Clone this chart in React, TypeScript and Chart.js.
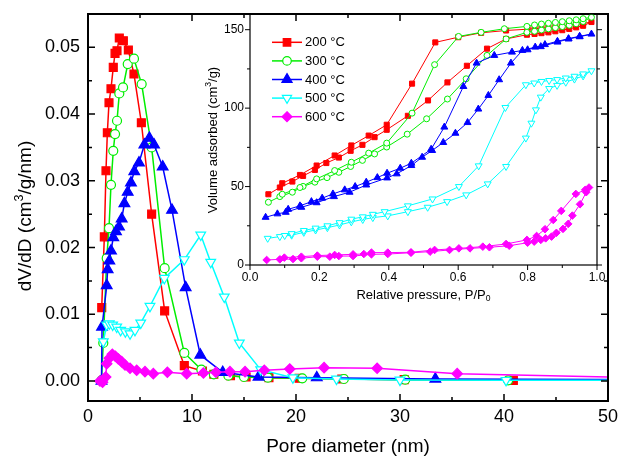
import React, { useEffect, useRef } from "react";
import { Chart, registerables } from "chart.js";

Chart.register(...registerables);

const FONT = '"Liberation Sans", Arial, Helvetica, sans-serif';

// Pore size distributions: [pore diameter (nm), dV/dD (cm3/g/nm)]
const psd200: [number, number][] = [
  [1.32, 0.011], [1.57, 0.0216], [1.73, 0.0315], [1.86, 0.0372], [2.02, 0.0417], [2.21, 0.0438],
  [2.43, 0.047], [2.6, 0.0491], [2.79, 0.0495], [3.01, 0.0514], [3.4, 0.051], [3.88, 0.0496],
  [4.42, 0.046], [5.13, 0.0387], [6.12, 0.025], [7.37, 0.0105], [9.26, 0.0023], [11.0, 0.0015],
  [12.1, 0.001], [13.7, 0.0008], [15.2, 0.0006], [17.4, 0.0005], [20.3, 0.0004], [24.4, 0.0003],
  [30.4, 0.0002], [40.9, 0.0001],
];
const psd300: [number, number][] = [
  [1.3, 0.0001], [1.47, 0.0057], [1.8, 0.0184], [2.02, 0.0229], [2.21, 0.0294], [2.43, 0.0345],
  [2.6, 0.037], [2.79, 0.039], [3.01, 0.0431], [3.37, 0.044], [3.82, 0.0475], [4.42, 0.0483],
  [5.16, 0.0445], [6.12, 0.035], [7.37, 0.0169], [9.26, 0.0042], [10.9, 0.0017], [12.1, 0.001],
  [13.5, 0.0008], [15.0, 0.0006], [17.3, 0.0005], [20.6, 0.0004], [24.6, 0.0003], [30.5, 0.0002],
  [40.4, 0.0001],
];
const psd400: [number, number][] = [
  [1.3, 0.0], [1.35, 0.0081], [1.8, 0.0143], [1.89, 0.0167], [2.05, 0.018], [2.21, 0.0195],
  [2.43, 0.0215], [2.69, 0.0224], [2.98, 0.0231], [3.24, 0.0243], [3.5, 0.0266], [3.82, 0.0283],
  [4.13, 0.0297], [4.45, 0.0314], [4.9, 0.0327], [5.42, 0.0354], [5.9, 0.0364], [6.35, 0.0354],
  [7.18, 0.0321], [8.08, 0.0256], [9.39, 0.014], [10.8, 0.0039], [12.95, 0.0013], [16.4, 0.0006],
  [22.0, 0.0005], [33.4, 0.0003], [55.0, 0.0002],
];
const psd500: [number, number][] = [
  [1.47, 0.0059], [1.8, 0.0084], [2.05, 0.0086], [2.37, 0.0084], [2.76, 0.0081], [3.14, 0.0076],
  [3.59, 0.0074], [4.04, 0.0071], [4.52, 0.0076], [5.07, 0.0087], [5.96, 0.0112], [7.34, 0.0154],
  [9.26, 0.0182], [10.84, 0.0219], [11.8, 0.0178], [13.1, 0.0126], [14.55, 0.0057], [16.6, 0.0017],
  [19.7, 0.0005], [23.9, 0.0003], [30.0, 0.00015], [40.2, 0.0001], [55.0, 0.0001],
];
const psd600: [number, number][] = [
  [1.15, 0.0], [1.4, -0.0002], [1.7, 0.0006], [1.8, 0.0026], [2.05, 0.0034], [2.34, 0.004],
  [2.63, 0.0037], [2.92, 0.0033], [3.24, 0.0029], [3.56, 0.0024], [4.04, 0.0019], [4.68, 0.0016],
  [5.48, 0.0014], [6.28, 0.0011], [7.63, 0.0013], [9.49, 0.0011], [11.1, 0.0012], [12.3, 0.0013],
  [13.65, 0.0014], [15.1, 0.0014], [16.95, 0.0016], [19.4, 0.0018], [22.7, 0.002], [27.8, 0.0019],
  [35.5, 0.0011], [55.0, 0.0004],
];

// N2 isotherms: [P/P0, volume adsorbed (cm3/g)], adsorption rising then desorption falling
const ads200: [number, number][] = [
  [0.053, 45.1], [0.086, 49.4], [0.122, 53.2], [0.153, 56.8], [0.187, 60.6], [0.22, 65], [0.256, 68.5],
  [0.29, 72.8], [0.324, 76.6], [0.359, 81.5], [0.394, 86.2], [0.455, 95.1], [0.513, 104.9], [0.569, 116.4],
  [0.625, 127], [0.683, 137.9], [0.738, 144.1], [0.798, 146.8], [0.82, 147.3], [0.84, 147.8], [0.86, 148.3],
  [0.88, 149], [0.9, 149.7], [0.92, 150.5], [0.94, 151.5], [0.96, 152.5], [0.984, 154.9],
];
const des200: [number, number][] = [
  [0.96, 154], [0.94, 153.3], [0.92, 152.8], [0.9, 152.3], [0.88, 151.8], [0.86, 151.4], [0.84, 151],
  [0.82, 150.6], [0.8, 150.3], [0.738, 149.5], [0.666, 148], [0.6, 145.2], [0.534, 141.9], [0.467, 115.6],
  [0.394, 89.4], [0.342, 82.5], [0.292, 76.2], [0.244, 69.8], [0.192, 63.4], [0.144, 57.4], [0.093, 52.1],
];
const ads300: [number, number][] = [
  [0.053, 40], [0.086, 43.6], [0.122, 46.4], [0.153, 50.1], [0.187, 52.8], [0.222, 55.7], [0.256, 59.1],
  [0.29, 62.8], [0.324, 66.7], [0.359, 70.8], [0.394, 75.2], [0.453, 83.4], [0.509, 93.2], [0.569, 105.8],
  [0.623, 118.7], [0.683, 133.6], [0.738, 144.1], [0.798, 148.3], [0.82, 149], [0.84, 149.8], [0.86, 150.5],
  [0.88, 151.3], [0.9, 152], [0.92, 152.8], [0.94, 153.8], [0.96, 155.2], [0.984, 157.9],
];
const des300: [number, number][] = [
  [0.96, 157], [0.94, 156.3], [0.92, 155.7], [0.9, 155.1], [0.88, 154.6], [0.86, 154.1], [0.84, 153.6],
  [0.82, 153], [0.798, 152.1], [0.733, 150.6], [0.666, 148.3], [0.601, 145.7], [0.532, 127.7], [0.467, 96.8],
  [0.394, 77.7], [0.342, 71.3], [0.292, 65.5], [0.244, 60.2], [0.192, 54.9], [0.144, 49.4], [0.093, 45.1],
];
const ads400: [number, number][] = [
  [0.045, 30.4], [0.079, 32.6], [0.103, 33.6], [0.148, 36.8], [0.192, 39.7], [0.242, 43.6], [0.287, 46.4],
  [0.335, 51], [0.395, 55.5], [0.423, 58.1], [0.465, 63.4], [0.496, 68.7], [0.525, 73], [0.557, 78.1],
  [0.592, 84], [0.627, 90.8], [0.658, 99.4], [0.687, 108.1], [0.718, 118.1], [0.752, 128.7], [0.785, 136.8],
  [0.822, 138.9], [0.838, 139.2], [0.886, 142.1], [0.918, 144.1], [0.95, 145.5], [0.984, 147.2],
];
const des400: [number, number][] = [
  [0.95, 145.8], [0.918, 144.3], [0.886, 142.6], [0.85, 140.5], [0.8, 137.2], [0.755, 135.7], [0.704, 133.6],
  [0.653, 128.7], [0.615, 113.8], [0.56, 87.9], [0.522, 73.8], [0.465, 64.9], [0.433, 61.7], [0.395, 58.5],
  [0.367, 55.7], [0.335, 52.8], [0.303, 50], [0.273, 47.9], [0.239, 45.3], [0.208, 42.6], [0.177, 40.4],
  [0.144, 37.7], [0.11, 35.5],
];
const ads500: [number, number][] = [
  [0.051, 17], [0.086, 18.1], [0.12, 19], [0.155, 20.8], [0.189, 22.3], [0.223, 23.8], [0.258, 25.5],
  [0.292, 27.5], [0.325, 29], [0.354, 30.2], [0.397, 31.3], [0.455, 34], [0.512, 36.8], [0.568, 40.4],
  [0.623, 44.7], [0.685, 51.7], [0.738, 62.8], [0.795, 80.9], [0.811, 90.4], [0.824, 98.9], [0.838, 107],
  [0.862, 112.5], [0.885, 114.5], [0.91, 116.5], [0.935, 118.5], [0.96, 120.5], [0.984, 123.8],
];
const des500: [number, number][] = [
  [0.96, 121.8], [0.935, 120.3], [0.91, 119.2], [0.885, 118.2], [0.862, 117.6], [0.84, 117], [0.819, 116],
  [0.795, 114.9], [0.736, 100.4], [0.659, 63.2], [0.602, 50], [0.526, 42.1], [0.455, 37.7], [0.388, 34],
  [0.354, 32.3], [0.325, 30.7], [0.292, 29.2], [0.258, 27], [0.223, 25], [0.189, 23.5], [0.155, 22],
  [0.12, 20], [0.1, 18.8],
];
const ads600: [number, number][] = [
  [0.048, 3.2], [0.086, 3.6], [0.124, 3.8], [0.148, 4.3], [0.194, 5.3], [0.23, 5.3], [0.256, 5.7],
  [0.297, 5.7], [0.35, 6.8], [0.397, 7], [0.464, 7.8], [0.519, 8.5], [0.575, 9.6], [0.634, 10.6],
  [0.69, 11.3], [0.747, 12.3], [0.8, 14.2], [0.819, 14.9], [0.838, 16], [0.852, 17], [0.869, 18.1],
  [0.883, 20.5], [0.902, 23], [0.917, 26.2], [0.929, 31.5], [0.951, 38.7], [0.969, 46.4], [0.977, 49.4],
];
const des600: [number, number][] = [
  [0.966, 47.9], [0.939, 45.3], [0.897, 34.5], [0.874, 28.7], [0.85, 22.8], [0.826, 18.5], [0.798, 16],
  [0.738, 13.4], [0.671, 11.7], [0.602, 10.6], [0.532, 9.6], [0.464, 8.1], [0.397, 7.9], [0.35, 7.9],
  [0.328, 7], [0.297, 6.8], [0.244, 6.4], [0.194, 6], [0.148, 5.3], [0.099, 4.7],
];

const seriesLabels = ["200 °C", "300 °C", "400 °C", "500 °C", "600 °C"];
const psdSeries = [psd200, psd300, psd400, psd500, psd600];
const isoSeries = [
  [ads200, des200],
  [ads300, des300],
  [ads400, des400],
  [ads500, des500],
  [ads600, des600],
];

// axis ticks
const mainXTicks = [0, 10, 20, 30, 40, 50];
const mainXMinor = [5, 15, 25, 35, 45];
const mainYTicks = [0, 0.01, 0.02, 0.03, 0.04, 0.05];
const mainYTickLabels = ["0.00", "0.01", "0.02", "0.03", "0.04", "0.05"];
const mainYMinor = [0.005, 0.015, 0.025, 0.035, 0.045];
const insetXTicks = [0, 0.2, 0.4, 0.6, 0.8, 1.0];
const insetXTickLabels = ["0.0", "0.2", "0.4", "0.6", "0.8", "1.0"];
const insetXMinor = [0.1, 0.3, 0.5, 0.7, 0.9];
const insetYTicks = [0, 50, 100, 150];
const insetYMinor = [25, 75, 125];

type Marker = "rect" | "circle" | "triangle" | "triangleDown" | "rectRot";
interface SeriesStyle {
  color: string;
  marker: Marker;
  filled: boolean;
  mainR: number;
  insetR: number;
}
const styles: SeriesStyle[] = [
  { color: "#ff0000", marker: "rect", filled: true, mainR: 5.6, insetR: 3.6 },
  { color: "#00ee00", marker: "circle", filled: false, mainR: 4.5, insetR: 3.0 },
  { color: "#0000ff", marker: "triangle", filled: true, mainR: 6.2, insetR: 4.0 },
  { color: "#00ffff", marker: "triangleDown", filled: false, mainR: 5.6, insetR: 4.0 },
  { color: "#ff00ff", marker: "rectRot", filled: true, mainR: 5.2, insetR: 3.8 },
];

type Seg = { t: string; s?: "sup" | "sub" };

function drawRich(
  ctx: CanvasRenderingContext2D,
  segs: Seg[],
  x: number,
  y: number,
  size: number,
  rotate: boolean
) {
  const small = size * 0.66;
  let total = 0;
  const widths = segs.map((sg) => {
    ctx.font = `${sg.s ? small : size}px ${FONT}`;
    const w = ctx.measureText(sg.t).width;
    total += w;
    return w;
  });
  ctx.save();
  ctx.translate(x, y);
  if (rotate) ctx.rotate(-Math.PI / 2);
  ctx.fillStyle = "#000";
  ctx.textBaseline = "middle";
  ctx.textAlign = "left";
  let cx = -total / 2;
  segs.forEach((sg, i) => {
    ctx.font = `${sg.s ? small : size}px ${FONT}`;
    const dy = sg.s === "sup" ? -size * 0.33 : sg.s === "sub" ? size * 0.3 : 0;
    ctx.fillText(sg.t, cx, dy);
    cx += widths[i];
  });
  ctx.restore();
}

function drawMarker(
  ctx: CanvasRenderingContext2D,
  kind: Marker,
  x: number,
  y: number,
  r: number,
  st: SeriesStyle
) {
  ctx.beginPath();
  if (kind === "rect") {
    const h = r * Math.SQRT1_2;
    ctx.rect(x - h, y - h, 2 * h, 2 * h);
  } else if (kind === "circle") {
    ctx.arc(x, y, r, 0, Math.PI * 2);
  } else if (kind === "triangle" || kind === "triangleDown") {
    const s = kind === "triangle" ? 1 : -1;
    for (let k = 0; k < 3; k++) {
      const a = (k * 2 * Math.PI) / 3;
      const px = x + Math.sin(a) * r;
      const py = y - s * Math.cos(a) * r;
      if (k === 0) ctx.moveTo(px, py);
      else ctx.lineTo(px, py);
    }
    ctx.closePath();
  } else {
    ctx.moveTo(x, y - r);
    ctx.lineTo(x + r, y);
    ctx.lineTo(x, y + r);
    ctx.lineTo(x - r, y);
    ctx.closePath();
  }
  ctx.fillStyle = st.filled ? st.color : "#ffffff";
  ctx.fill();
  ctx.lineWidth = 1.2;
  ctx.strokeStyle = st.color;
  ctx.stroke();
}

function pointConfig(st: SeriesStyle, r: number) {
  return {
    pointStyle: st.marker === "triangleDown" ? "triangle" : st.marker,
    pointRotation: st.marker === "triangleDown" ? 180 : 0,
    pointRadius: r,
    pointBorderWidth: 1.2,
    pointBorderColor: st.color,
    pointBackgroundColor: st.filled ? st.color : "#ffffff",
    borderColor: st.color,
    backgroundColor: st.color,
  };
}

const mainFrame = {
  id: "mainFrame",
  afterDatasetsDraw(chart: any) {
    const { ctx, chartArea, scales } = chart;
    const { left, right, top, bottom } = chartArea;
    const sx = scales.x;
    const sy = scales.y;
    ctx.save();
    ctx.strokeStyle = "#000";
    ctx.lineWidth = 2;
    ctx.strokeRect(left, top, right - left, bottom - top);
    ctx.lineWidth = 1.5;
    ctx.beginPath();
    const tickX = (v: number, len: number) => {
      const p = sx.getPixelForValue(v);
      ctx.moveTo(p, bottom);
      ctx.lineTo(p, bottom - len);
      ctx.moveTo(p, top);
      ctx.lineTo(p, top + len);
    };
    const tickY = (v: number, len: number) => {
      const p = sy.getPixelForValue(v);
      ctx.moveTo(left, p);
      ctx.lineTo(left + len, p);
      ctx.moveTo(right, p);
      ctx.lineTo(right - len, p);
    };
    mainXTicks.forEach((v) => tickX(v, 7));
    mainXMinor.forEach((v) => tickX(v, 4));
    mainYTicks.forEach((v) => tickY(v, 7));
    mainYMinor.forEach((v) => tickY(v, 4));
    ctx.stroke();

    ctx.fillStyle = "#000";
    ctx.font = `18px ${FONT}`;
    ctx.textBaseline = "middle";
    ctx.textAlign = "center";
    mainXTicks.forEach((v) => ctx.fillText(String(v), sx.getPixelForValue(v), 417));
    ctx.textAlign = "right";
    mainYTicks.forEach((v, i) => ctx.fillText(mainYTickLabels[i], 80, sy.getPixelForValue(v)));
    ctx.restore();

    drawRich(ctx, [{ t: "Pore diameter (nm)" }], (left + right) / 2, 447, 19, false);
    drawRich(
      ctx,
      [{ t: "dV/dD (cm" }, { t: "3", s: "sup" }, { t: "/g/nm)" }],
      26,
      216,
      19,
      true
    );
  },
};

const insetFrame = {
  id: "insetFrame",
  afterDatasetsDraw(chart: any) {
    const { ctx, chartArea, scales } = chart;
    const { left, right, top, bottom } = chartArea;
    const sx = scales.x;
    const sy = scales.y;
    ctx.save();
    ctx.strokeStyle = "#000";
    ctx.lineWidth = 1.2;
    ctx.strokeRect(left, top, right - left, bottom - top);
    ctx.lineWidth = 1;
    ctx.beginPath();
    const tickX = (v: number, len: number) => {
      const p = sx.getPixelForValue(v);
      ctx.moveTo(p, bottom);
      ctx.lineTo(p, bottom + len);
    };
    const tickY = (v: number, len: number) => {
      const p = sy.getPixelForValue(v);
      ctx.moveTo(left, p);
      ctx.lineTo(left - len, p);
      ctx.moveTo(right, p);
      ctx.lineTo(right + len, p);
    };
    insetXTicks.forEach((v) => tickX(v, 5));
    insetXMinor.forEach((v) => tickX(v, 3));
    insetYTicks.forEach((v) => tickY(v, 5));
    insetYMinor.forEach((v) => tickY(v, 3));
    ctx.stroke();

    ctx.fillStyle = "#000";
    ctx.font = `12px ${FONT}`;
    ctx.textBaseline = "middle";
    ctx.textAlign = "center";
    insetXTicks.forEach((v, i) => ctx.fillText(insetXTickLabels[i], sx.getPixelForValue(v), 278));
    ctx.textAlign = "right";
    insetYTicks.forEach((v) => ctx.fillText(String(v), 244, sy.getPixelForValue(v)));

    // legend: line segment with marker, then label
    ctx.font = `13px ${FONT}`;
    ctx.textAlign = "left";
    seriesLabels.forEach((lab, i) => {
      const st = styles[i];
      const yy = 42.3 + i * 18.6;
      ctx.strokeStyle = st.color;
      ctx.lineWidth = 1.5;
      ctx.beginPath();
      ctx.moveTo(272, yy);
      ctx.lineTo(302, yy);
      ctx.stroke();
      drawMarker(ctx, st.marker, 287, yy, st.mainR * 0.95, st);
      ctx.fillStyle = "#000";
      ctx.fillText(lab, 305, yy + 0.5);
    });
    ctx.restore();

    drawRich(
      ctx,
      [{ t: "Relative pressure, P/P" }, { t: "0", s: "sub" }],
      (left + right) / 2,
      295,
      13,
      false
    );
    drawRich(
      ctx,
      [{ t: "Volume adsorbed (cm" }, { t: "3", s: "sup" }, { t: "/g)" }],
      213,
      140,
      13,
      true
    );
  },
};

export default function App() {
  const mainRef = useRef<HTMLCanvasElement>(null);
  const insetRef = useRef<HTMLCanvasElement>(null);

  useEffect(() => {
    if (!mainRef.current || !insetRef.current) return;

    const mainChart = new Chart(mainRef.current, {
      type: "line",
      data: {
        datasets: psdSeries.map((pts, i) => ({
          label: seriesLabels[i],
          data: pts.map(([x, y]) => ({ x, y })),
          borderWidth: 1.5,
          tension: 0,
          fill: false,
          order: 5 - i,
          ...pointConfig(styles[i], styles[i].mainR),
        })),
      },
      options: {
        animation: false,
        responsive: false,
        devicePixelRatio: 1,
        events: [],
        layout: { padding: { left: 88, right: 12, top: 14, bottom: 56 } },
        plugins: { legend: { display: false }, tooltip: { enabled: false } },
        scales: {
          x: { type: "linear", min: 0, max: 50, display: false },
          y: { type: "linear", min: -0.003, max: 0.055, display: false },
        },
      } as any,
      plugins: [mainFrame],
    });

    const insetChart = new Chart(insetRef.current, {
      type: "line",
      data: {
        datasets: isoSeries.map(([ads, des], i) => ({
          label: seriesLabels[i],
          data: [...ads, ...des].map(([x, y]) => ({ x, y })),
          borderWidth: 1,
          tension: 0,
          fill: false,
          order: 5 - i,
          ...pointConfig(styles[i], styles[i].insetR),
          pointBorderWidth: 1,
        })),
      },
      options: {
        animation: false,
        responsive: false,
        devicePixelRatio: 1,
        events: [],
        layout: { padding: { left: 250, right: 23, top: 14, bottom: 192 } },
        plugins: { legend: { display: false }, tooltip: { enabled: false } },
        scales: {
          x: { type: "linear", min: 0, max: 1.0, display: false },
          y: { type: "linear", min: 0, max: 160, display: false },
        },
      } as any,
      plugins: [insetFrame],
    });

    return () => {
      mainChart.destroy();
      insetChart.destroy();
    };
  }, []);

  return (
    <div
      style={{
        position: "fixed",
        left: 0,
        top: 0,
        width: 620,
        height: 457,
        background: "#ffffff",
      }}
    >
      <canvas
        ref={mainRef}
        width={620}
        height={457}
        style={{ position: "absolute", left: 0, top: 0 }}
      />
      <canvas
        ref={insetRef}
        width={620}
        height={457}
        style={{ position: "absolute", left: 0, top: 0 }}
      />
    </div>
  );
}
